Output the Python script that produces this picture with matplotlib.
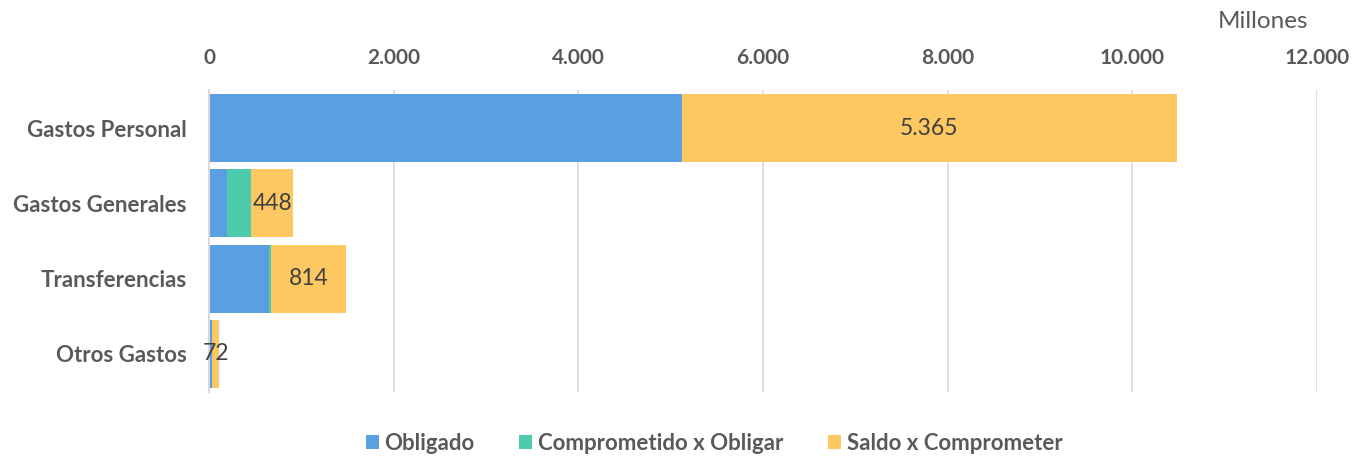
import matplotlib
matplotlib.use("Agg")
import matplotlib.pyplot as plt
import numpy as np

categories = ["Gastos Personal", "Gastos Generales", "Transferencias", "Otros Gastos"]
obligado = [5120, 190, 652, 33]
comprometido = [0, 270, 20, 3]
saldo = [5365, 448, 814, 72]
series_names = ["Obligado", "Comprometido x Obligar", "Saldo x Comprometer"]
xticks = [0, 2000, 4000, 6000, 8000, 10000, 12000]
xtick_labels = ["0", "2.000", "4.000", "6.000", "8.000", "10.000", "12.000"]
colors = ["#5B9FE3", "#4ECBAD", "#FDC861"]

plt.rcParams['font.family'] = ['Lato', 'DejaVu Sans']

fig = plt.figure(figsize=(13.53, 4.57), dpi=100)
ax = fig.add_axes([209/1353, 1-391.6/457, 1108/1353, (391.6-90.4)/457])

y = np.arange(len(categories))
h = 0.9
ob = np.array(obligado); co = np.array(comprometido); sa = np.array(saldo)
ax.barh(y, ob, height=h, color=colors[0], label=series_names[0], zorder=2)
ax.barh(y, co, left=ob, height=h, color=colors[1], label=series_names[1], zorder=2)
ax.barh(y, sa, left=ob+co, height=h, color=colors[2], label=series_names[2], zorder=2)

for i, v in enumerate(saldo):
    s = f"{v:,}".replace(",", ".")
    ax.text(ob[i]+co[i]+v/2, y[i], s, ha="center", va="center", fontsize=16.5,
            color="#404040", zorder=3)

ax.set_xlim(0, 12000)
ax.set_ylim(3.5, -0.5)
ax.xaxis.tick_top()
ax.set_xticks(xticks)
ax.set_xticklabels(xtick_labels, fontsize=15, fontweight="bold", color="#595959")
ax.set_yticks(y)
ax.set_yticklabels(categories, fontsize=16, fontweight="bold", color="#595959")
ax.tick_params(axis="both", length=0)
ax.tick_params(axis="x", pad=16)
ax.tick_params(axis="y", pad=16)
ax.grid(axis="x", color="#D9D9D9", linewidth=1.2, zorder=0)
for sp in ["top", "right", "bottom"]:
    ax.spines[sp].set_visible(False)
ax.spines["left"].set_color("#D9D9D9")
ax.spines["left"].set_linewidth(1.5)

fig.text(1263/1353, 1-22/457, "Millones", ha="center", va="center", fontsize=17.5, color="#595959")

leg = fig.legend(loc="center", bbox_to_anchor=(714/1353, 1-443/457), ncol=3, frameon=False,
                 fontsize=16, handlelength=0.6, handleheight=0.6, columnspacing=2.0,
                 handletextpad=0.25)
for t in leg.get_texts():
    t.set_fontweight("bold")
    t.set_color("#595959")

fig.savefig("out.png", dpi=100)
